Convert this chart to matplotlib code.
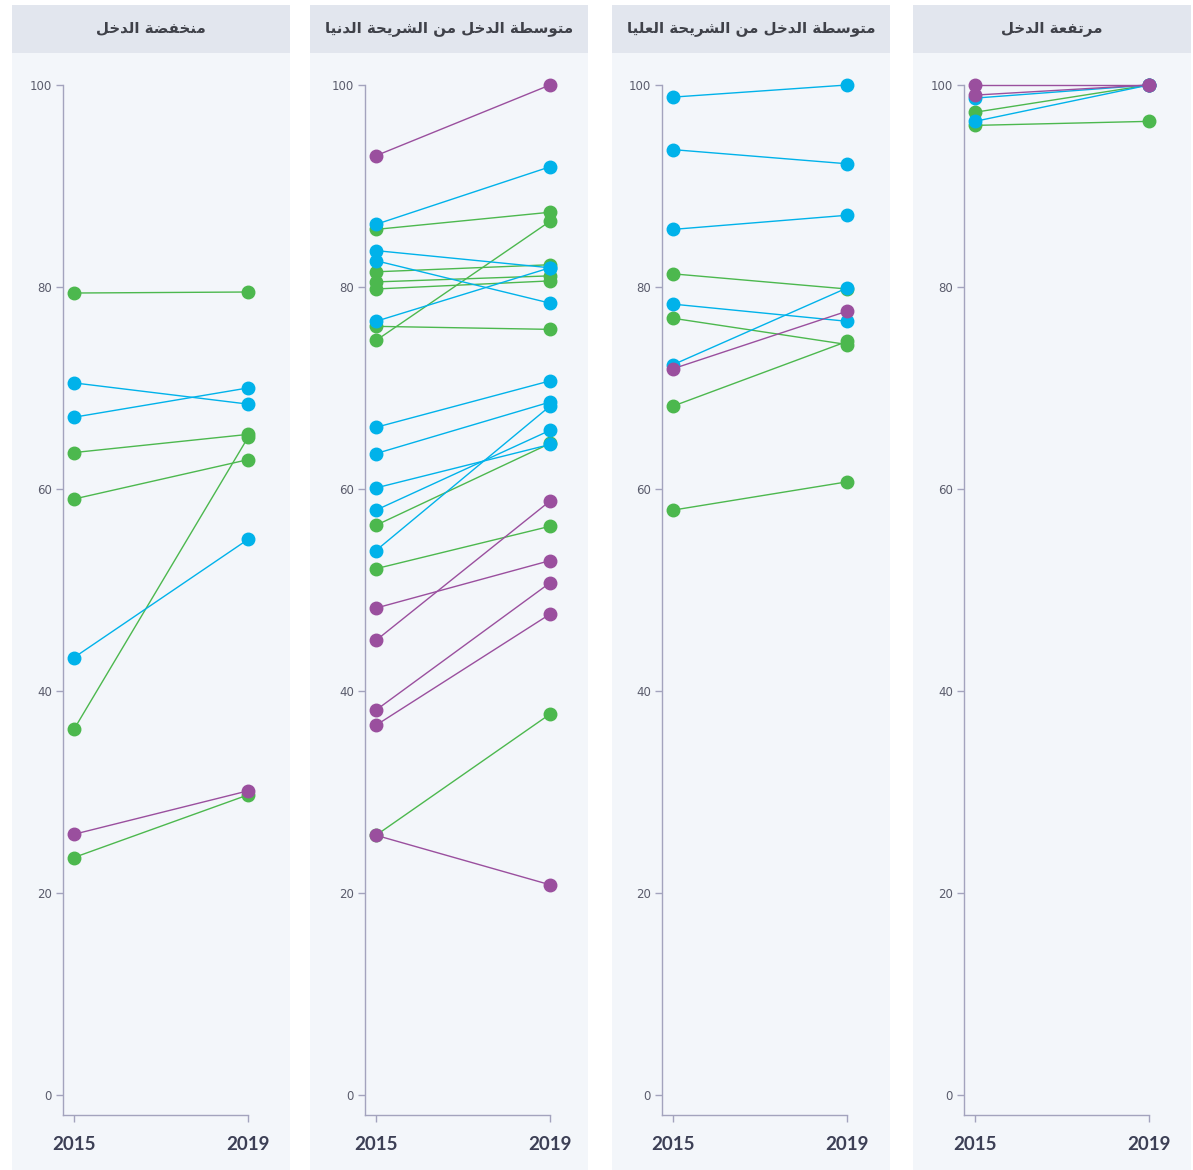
import matplotlib
matplotlib.use('Agg')
from matplotlib import pyplot as plt
from matplotlib.patches import Rectangle

# data
YEARS = [2015, 2019]
PANEL_TITLES = [
    'منخفضة الدخل',
    'متوسطة الدخل من الشريحة الدنيا',
    'متوسطة الدخل من الشريحة العليا',
    'مرتفعة الدخل',
]

low_2015 = [79.4, 70.5, 67.1, 63.6, 59.0, 36.2, 43.3, 25.8, 23.5]
low_2019 = [79.5, 68.4, 70.0, 65.4, 62.9, 65.1, 55.0, 30.1, 29.7]
low_group = ['g', 'b', 'b', 'g', 'g', 'g', 'b', 'p', 'g']

lower_mid_2015 = [93.0, 86.2, 85.7, 83.6, 82.6, 81.5, 80.5, 79.8, 76.6, 76.1, 74.7, 66.1,
                  63.5, 60.1, 57.9, 56.4, 53.9, 52.1, 48.2, 45.0, 38.1, 36.6, 25.7, 25.7]
lower_mid_2019 = [100.0, 91.9, 87.4, 81.9, 78.4, 82.2, 81.1, 80.6, 81.9, 75.8, 86.5, 70.7,
                  68.6, 64.4, 65.8, 64.5, 68.2, 56.3, 52.9, 58.8, 50.7, 47.6, 37.7, 20.8]
lower_mid_group = ['p', 'b', 'g', 'b', 'b', 'g', 'g', 'g', 'b', 'g', 'g', 'b',
                   'b', 'b', 'b', 'g', 'b', 'g', 'p', 'p', 'p', 'p', 'g', 'p']

upper_mid_2015 = [98.8, 93.6, 85.7, 81.3, 78.3, 76.9, 72.3, 71.9, 68.2, 57.9]
upper_mid_2019 = [100.0, 92.2, 87.1, 79.8, 76.6, 74.3, 79.9, 77.6, 74.6, 60.7]
upper_mid_group = ['b', 'b', 'b', 'g', 'b', 'g', 'b', 'p', 'g', 'g']

high_2015 = [100.0, 99.0, 98.7, 97.3, 96.4, 96.0]
high_2019 = [100.0, 100.0, 100.0, 100.0, 100.0, 96.4]
high_group = ['p', 'p', 'b', 'g', 'b', 'g']

COLORS = {'b': '#00b2ea', 'g': '#4cb84e', 'p': '#9a4f9e'}

# simple arabic shaping (matplotlib has no RTL layout)
FORMS = {
    'ا': (0xFE8D, False), 'ب': (0xFE8F, True), 'ة': (0xFE93, False),
    'ت': (0xFE95, True), 'ح': (0xFEA1, True), 'خ': (0xFEA5, True),
    'د': (0xFEA9, False), 'ر': (0xFEAD, False), 'س': (0xFEB1, True),
    'ش': (0xFEB5, True), 'ض': (0xFEBD, True), 'ط': (0xFEC1, True),
    'ع': (0xFEC9, True), 'ف': (0xFED1, True), 'ل': (0xFEDD, True),
    'م': (0xFEE1, True), 'ن': (0xFEE5, True), 'و': (0xFEED, False),
    'ي': (0xFEF1, True),
}


def shape_arabic(text):
    out = []
    for i, ch in enumerate(text):
        if ch not in FORMS:
            out.append(ch)
            continue
        iso, dual = FORMS[ch]
        prev_joins = i > 0 and text[i - 1] in FORMS and FORMS[text[i - 1]][1]
        next_joins = dual and i + 1 < len(text) and text[i + 1] in FORMS
        if prev_joins and next_joins:
            code = iso + 3
        elif prev_joins:
            code = iso + 1
        elif next_joins:
            code = iso + 2
        else:
            code = iso
        out.append(chr(code))
    return ''.join(out[::-1])


panels = [
    (low_2015, low_2019, low_group),
    (lower_mid_2015, lower_mid_2019, lower_mid_group),
    (upper_mid_2015, upper_mid_2019, upper_mid_group),
    (high_2015, high_2019, high_group),
]

W, H = 1193, 1170
fig = plt.figure(figsize=(W / 100, H / 100), dpi=100)
fig.patch.set_facecolor('white')

panel_lefts = [12, 310, 612, 913]
axis_lefts = [63, 365, 662, 964]
panel_w = 278
axis_col = '#a3a3bd'

for k, (v15, v19, grp) in enumerate(panels):
    L = panel_lefts[k]
    # panel background + header
    fig.patches.append(Rectangle((L / W, 0), panel_w / W, 1 - 53 / H,
                                 transform=fig.transFigure, facecolor='#f3f6fa',
                                 edgecolor='none', zorder=-5))
    fig.patches.append(Rectangle((L / W, 1 - 53 / H), panel_w / W, 48 / H,
                                 transform=fig.transFigure, facecolor='#e2e6ee',
                                 edgecolor='none', zorder=-5))
    fig.text((L + panel_w / 2) / W, 1 - 28 / H, shape_arabic(PANEL_TITLES[k]),
             ha='center', va='center', fontsize=10.8, fontweight='bold',
             color='#3f4149', family='DejaVu Sans')

    ax_l = axis_lefts[k]
    ax_r = ax_l + 185
    ax = fig.add_axes([ax_l / W, 1 - 1115 / H, (ax_r - ax_l) / W, (1115 - 85) / H])
    ax.set_facecolor('none')
    ax.set_xlim(2015 - 11 / 174 * 4, 2019)
    ax.set_ylim(-2, 100)

    order = sorted(range(len(grp)), key=lambda i: {'g': 0, 'b': 1, 'p': 2}[grp[i]])
    for i in order:
        ax.plot(YEARS, [v15[i], v19[i]], color=COLORS[grp[i]], linewidth=1.0,
                marker='o', markersize=9, clip_on=False, zorder=3)

    for side in ['top', 'right']:
        ax.spines[side].set_visible(False)
    for side in ['left', 'bottom']:
        ax.spines[side].set_color(axis_col)
        ax.spines[side].set_linewidth(1.0)

    ax.set_yticks([0, 20, 40, 60, 80, 100])
    ax.set_xticks(YEARS)
    ax.set_xticklabels([str(y) for y in YEARS])
    ax.tick_params(axis='y', length=5, width=1, color=axis_col, pad=3,
                   labelsize=8.5, labelcolor='#5a5c6c')
    ax.tick_params(axis='x', length=5, width=1, color=axis_col, pad=10,
                   labelsize=13.5, labelcolor='#3c3f55')
    for lab in ax.get_yticklabels():
        lab.set_family('DejaVu Sans')
    for lab in ax.get_xticklabels():
        lab.set_family('Lato')
        lab.set_fontweight('bold')

fig.savefig('out.png', dpi=100)
